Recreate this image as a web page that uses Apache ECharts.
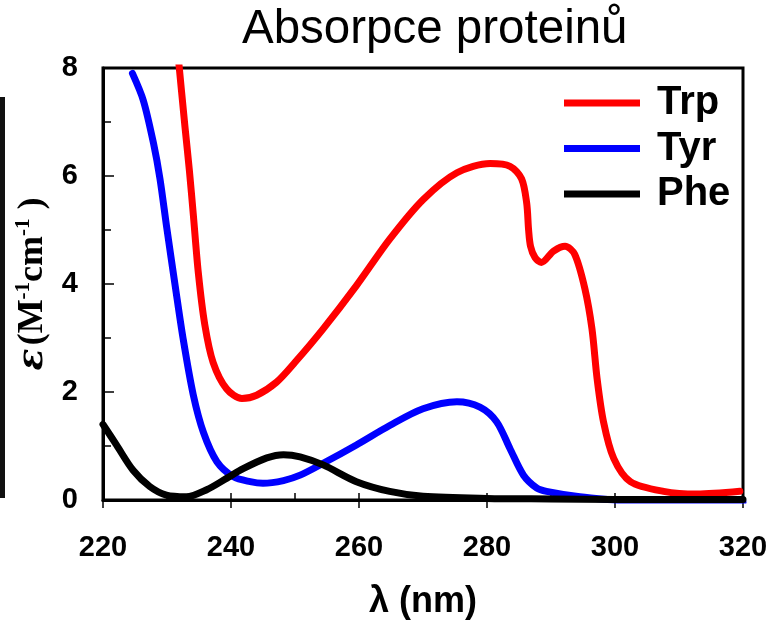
<!DOCTYPE html>
<html>
<head>
<meta charset="utf-8">
<script src="https://cdn.jsdelivr.net/npm/echarts@6/dist/echarts.min.js"></script>
<style>html,body{margin:0;padding:0;background:#fff;}#c{width:775px;height:625px;}</style>
</head>
<body>
<div id="c"></div>
<script>
// ---- data ----
var titleText = 'Absorpce proteinů';
var seriesNames = ['Trp', 'Tyr', 'Phe'];
var xTicks = [220, 240, 260, 280, 300, 320];
var yTicks = [0, 2, 4, 6, 8];

var trpWl  = [231.6, 232.8, 233.5, 234.1, 234.9, 235.9, 237.2, 239.3, 241.7, 244.0, 247.1, 250.0, 254.4, 259.6, 264.8, 270.0, 275.3, 280.5, 283.6, 285.4, 286.2, 286.5, 286.8, 287.5, 288.5, 290.4, 292.2, 293.7, 295.3, 296.4, 297.2, 298.2, 299.8, 302.4, 307.6, 312.8, 319.5];
var trpVal = [8.40, 6.92, 6.10, 5.30, 4.20, 3.25, 2.55, 2.06, 1.88, 1.94, 2.18, 2.55, 3.17, 3.97, 4.83, 5.56, 6.06, 6.23, 6.18, 5.95, 5.50, 5.00, 4.70, 4.49, 4.40, 4.61, 4.70, 4.55, 3.91, 3.17, 2.25, 1.45, 0.77, 0.34, 0.16, 0.11, 0.16];

var tyrWl  = [224.6, 226.3, 227.9, 228.9, 229.95, 231.3, 232.5, 234.1, 235.7, 237.8, 240.4, 243.0, 245.0, 248.2, 250.8, 254.4, 259.6, 264.8, 270.0, 275.3, 278.9, 281.5, 283.6, 285.7, 287.8, 289.3, 294.5, 299.7, 305.0, 310.0, 315.0, 320.0];
var tyrVal = [7.90, 7.40, 6.60, 5.95, 5.05, 3.95, 3.00, 1.95, 1.25, 0.71, 0.43, 0.34, 0.31, 0.36, 0.46, 0.68, 1.02, 1.38, 1.69, 1.82, 1.72, 1.45, 0.95, 0.46, 0.22, 0.16, 0.06, 0.00, -0.05, -0.06, -0.05, -0.04];

var pheWl  = [220.0, 222.1, 224.7, 227.3, 229.9, 233.0, 236.2, 239.3, 241.9, 245.6, 248.2, 250.8, 254.4, 259.6, 264.8, 270.0, 280.0, 290.0, 300.0, 310.0, 320.0];
var pheVal = [1.40, 1.02, 0.55, 0.25, 0.09, 0.06, 0.19, 0.40, 0.58, 0.78, 0.84, 0.80, 0.65, 0.34, 0.16, 0.07, 0.03, 0.02, 0.01, 0.01, 0.01];

var seriesColors = ['#ff0000', '#0000ff', '#000000'];

function pairs(xs, ys) { return xs.map(function (x, i) { return [x, ys[i]]; }); }

var chart = echarts.init(document.getElementById('c'), null, { renderer: 'canvas' });

var tickFont = { fontSize: 29, fontWeight: 'bold', fontFamily: 'Liberation Sans', color: '#000' };

var option = {
  animation: false,
  backgroundColor: '#fff',
  title: {
    text: titleText,
    left: 242, top: 6, padding: 0,
    textStyle: { fontSize: 47.5, fontWeight: 'normal', fontFamily: 'Liberation Sans', color: '#000' }
  },
  legend: {
    data: seriesNames,
    orient: 'vertical',
    left: 564, top: 83,
    padding: 0,
    itemWidth: 76, itemHeight: 7, itemGap: 5.5,
    icon: 'rect',
    textStyle: { fontSize: 40, fontWeight: 'bold', fontFamily: 'Liberation Sans', color: '#000', lineHeight: 40, padding: [0, 0, 0, 12] }
  },
  grid: { left: 103, right: 32, top: 68, bottom: 123, show: true, borderColor: '#000', borderWidth: 3, backgroundColor: 'transparent' },
  xAxis: [{
    type: 'value', min: xTicks[0], max: xTicks[xTicks.length - 1], interval: 20,
    name: 'λ (nm)', nameLocation: 'middle', nameGap: 84,
    nameTextStyle: { fontSize: 36, fontWeight: 'bold', fontFamily: 'Liberation Sans', color: '#000' },
    axisLine: { show: true, onZero: false, lineStyle: { color: '#000', width: 3 } },
    axisTick: { show: true, inside: true, length: 7, lineStyle: { color: '#000', width: 1.5 } },
    minorTick: { show: true, splitNumber: 2, length: 7, lineStyle: { color: '#000', width: 1.5 } },
    splitLine: { show: false },
    axisLabel: Object.assign({ margin: 33 }, tickFont)
  }, {
    type: 'value', min: xTicks[0], max: xTicks[xTicks.length - 1], interval: 20, position: 'bottom',
    axisLine: { show: false },
    axisTick: { show: true, inside: false, length: 8, lineStyle: { color: '#000', width: 1.5 } },
    axisLabel: { show: false }, splitLine: { show: false }
  }],
  yAxis: {
    type: 'value', min: yTicks[0], max: yTicks[yTicks.length - 1], interval: 2,
    name: '{e|ε} {m|(M}{s|-1}{m|cm}{s|-1}{m| )}',
    nameLocation: 'middle', nameRotate: 90, nameGap: 44,
    nameTextStyle: {
      color: '#000',
      rich: {
        e: { fontFamily: 'DejaVu Serif', fontStyle: 'italic', fontWeight: 'bold', fontSize: 36, lineHeight: 40, color: '#000' },
        m: { fontFamily: 'Liberation Serif', fontWeight: 'bold', fontSize: 36, lineHeight: 40, color: '#000' },
        s: { fontFamily: 'Liberation Serif', fontWeight: 'bold', fontSize: 21, lineHeight: 23, verticalAlign: 'top', color: '#000' }
      }
    },
    axisLine: { show: true, onZero: false, lineStyle: { color: '#000', width: 3 } },
    axisTick: { show: true, inside: true, length: 11, lineStyle: { color: '#000', width: 1.5 } },
    minorTick: { show: true, splitNumber: 2, length: 8, lineStyle: { color: '#000', width: 1.5 } },
    splitLine: { show: false },
    axisLabel: Object.assign({ margin: 25 }, tickFont)
  },
  graphic: [{
    type: 'rect', left: 0, top: 97, shape: { width: 5, height: 401 }, style: { fill: '#111' }, silent: true
  }],
  series: [
    { name: seriesNames[0], type: 'line', data: pairs(trpWl, trpVal) },
    { name: seriesNames[1], type: 'line', data: pairs(tyrWl, tyrVal) },
    { name: seriesNames[2], type: 'line', data: pairs(pheWl, pheVal) }
  ].map(function (s, i) {
    s.xAxisIndex = 0; s.yAxisIndex = 0;
    s.smooth = 0.3;
    s.showSymbol = false; s.symbol = 'none'; s.clip = true;
    s.color = seriesColors[i];
    s.lineStyle = { color: seriesColors[i], width: 7, cap: 'round', join: 'round' };
    s.itemStyle = { color: seriesColors[i] };
    return s;
  })
};
chart.setOption(option);
</script>
</body>
</html>
